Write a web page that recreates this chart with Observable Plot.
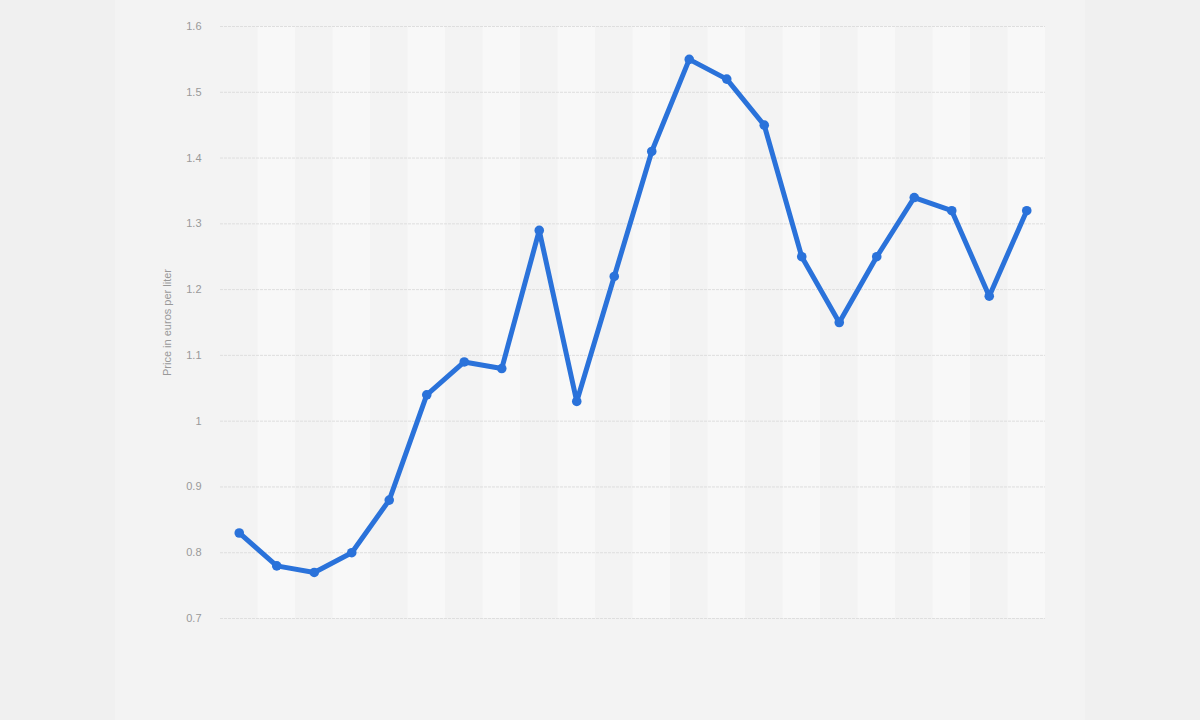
<!DOCTYPE html>
<html>
<head>
<meta charset="utf-8">
<script src="https://cdn.jsdelivr.net/npm/d3@7"></script>
<script src="https://cdn.jsdelivr.net/npm/@observablehq/plot@0.6"></script>
<style>
  html, body { margin: 0; padding: 0; background: #f0f0f0; }
  #chart svg { display: block; }
</style>
</head>
<body>
<div id="chart"></div>
<script>
const years = [2000, 2001, 2002, 2003, 2004, 2005, 2006, 2007, 2008, 2009, 2010,
               2011, 2012, 2013, 2014, 2015, 2016, 2017, 2018, 2019, 2020, 2021];
const prices = [0.83, 0.78, 0.77, 0.80, 0.88, 1.04, 1.09, 1.08, 1.29, 1.03, 1.22,
                1.41, 1.55, 1.52, 1.45, 1.25, 1.15, 1.25, 1.34, 1.32, 1.19, 1.32];
const yTicks = [0.7, 0.8, 0.9, 1.0, 1.1, 1.2, 1.3, 1.4, 1.5, 1.6];
const yLabel = "Price in euros per liter";

const data = years.map((year, i) => ({i, year, price: prices[i]}));
const bands = data.filter(d => d.i % 2 === 1);

const chart = Plot.plot({
  width: 1200,
  height: 720,
  marginLeft: 220,
  marginRight: 155,
  marginTop: 26,
  marginBottom: 102,
  style: {
    fontFamily: "'Liberation Sans', Arial, sans-serif",
    fontSize: "11px",
    background: "linear-gradient(to right, #f0f0f0 115px, #f3f3f3 115px, #f3f3f3 1085px, #f0f0f0 1085px)"
  },
  x: {type: "linear", domain: [-0.5, years.length - 0.5], axis: null},
  y: {domain: [0.7, 1.6], axis: null},
  marks: [
    Plot.rect(bands, {x1: d => d.i - 0.5, x2: d => d.i + 0.5, y1: 0.7, y2: 1.6, fill: "#f8f8f8"}),
    Plot.ruleY(yTicks, {stroke: "#dedede", strokeWidth: 1, strokeDasharray: "3,1"}),
    Plot.axisY(yTicks, {tickSize: 0, tickPadding: 19, label: null, fill: "#999999",
      tickFormat: d => String(+d.toFixed(1))}),
    Plot.text([yLabel], {frameAnchor: "left", textAnchor: "middle", rotate: -90, dx: -53, fill: "#999999", fontSize: 11}),
    Plot.line(data, {x: "i", y: "price", stroke: "#2a72da", strokeWidth: 5, strokeLinejoin: "round", strokeLinecap: "round"}),
    Plot.dot(data, {x: "i", y: "price", r: 4.8, fill: "#2a72da"})
  ]
});
document.getElementById("chart").append(chart);
</script>
</body>
</html>
